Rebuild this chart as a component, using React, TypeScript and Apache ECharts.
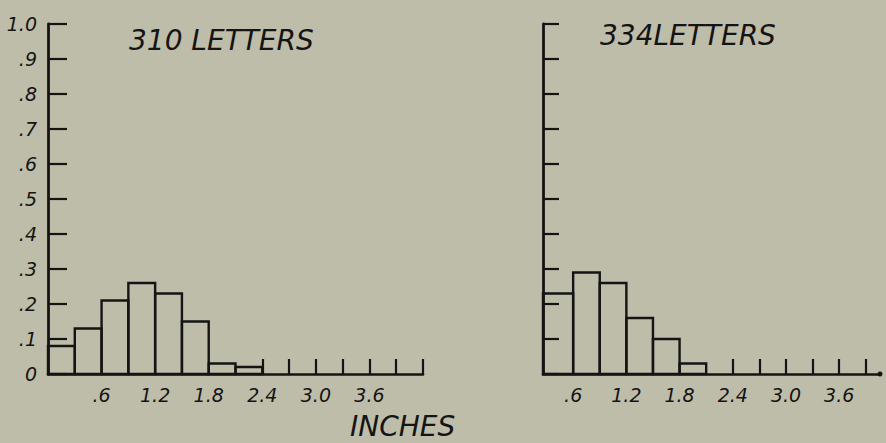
import React, { useEffect, useRef } from "react";
import * as echarts from "echarts";

// Left panel: 310 letters
const leftBinEdges = [0, 0.3, 0.6, 0.9, 1.2, 1.5, 1.8, 2.1, 2.4];
const leftValues = [0.08, 0.13, 0.21, 0.26, 0.23, 0.15, 0.03, 0.02];
// Right panel: 334 letters
const rightBinEdges = [0.26, 0.6, 0.9, 1.2, 1.5, 1.8, 2.1];
const rightValues = [0.23, 0.29, 0.26, 0.16, 0.1, 0.03];

const leftXTicks = [2.4, 2.7, 3.0, 3.3, 3.6, 3.9, 4.2];
const rightXTicks = [2.4, 2.7, 3.0, 3.3, 3.6, 3.9];
const xLabelValues = [0.6, 1.2, 1.8, 2.4, 3.0, 3.6];
const yTickValues = [0, 0.1, 0.2, 0.3, 0.4, 0.5, 0.6, 0.7, 0.8, 0.9, 1.0];

const leftTitle = "310 LETTERS";
const rightTitle = "334LETTERS";
const xName = "INCHES";

const INK = "#141414";
const BG = "#bebdaa";
const FONT = "DejaVu Sans";

const fmtX = (v: number) => {
  const r = Math.round(v * 10) / 10;
  return r < 1 ? "." + Math.round(r * 10) : r.toFixed(1);
};
const fmtY = (v: number) => {
  const r = Math.round(v * 10);
  if (r === 0) return "0";
  if (r === 10) return "1.0";
  return "." + r;
};

function binData(edges: number[], values: number[]) {
  return values.map((v, i) => [edges[i], edges[i + 1], v]);
}

const renderBar = (params: any, api: any) => {
  const x0 = api.value(0);
  const x1 = api.value(1);
  const h = api.value(2);
  const p0 = api.coord([x0, 0]);
  const p1 = api.coord([x1, h]);
  return {
    type: "rect",
    shape: { x: p0[0], y: p1[1], width: p1[0] - p0[0], height: p0[1] - p1[1] },
    style: { fill: "none", stroke: INK, lineWidth: 2.4 },
  };
};

export default function App() {
  const ref = useRef<HTMLDivElement>(null);
  useEffect(() => {
    if (!ref.current) return;
    const chart = echarts.init(ref.current, undefined, { renderer: "svg" });
    const labelStyle = {
      color: INK,
      fontFamily: FONT,
      fontStyle: "italic" as const,
      fontSize: 19,
    };
    const titleStyle = (size: number) => ({
      color: INK,
      fontFamily: FONT,
      fontStyle: "italic" as const,
      fontWeight: "normal" as const,
      fontSize: size,
    });
    const xAxisCommon = (ticks: number[], withDot: boolean) => ({
      type: "value" as const,
      axisLine: {
        show: true,
        lineStyle: { color: INK, width: 2.6 },
        symbol: withDot ? ["none", "circle"] : ["none", "none"],
        symbolSize: [5, 5],
      },
      axisTick: {
        show: true,
        inside: true,
        length: 15,
        lineStyle: { color: INK, width: 2.2 },
        customValues: ticks,
      },
      axisLabel: {
        ...labelStyle,
        margin: 11,
        customValues: xLabelValues,
        formatter: fmtX,
      },
      splitLine: { show: false },
    });
    const yAxisCommon = (showLabels: boolean, len: number) => ({
      type: "value" as const,
      min: 0,
      max: 1,
      axisLine: { show: true, lineStyle: { color: INK, width: 2.8 } },
      axisTick: {
        show: true,
        inside: true,
        length: len,
        lineStyle: { color: INK, width: 2.2 },
        customValues: yTickValues,
      },
      axisLabel: {
        show: showLabels,
        ...labelStyle,
        fontSize: 19,
        margin: 11,
        customValues: yTickValues,
        formatter: fmtY,
      },
      splitLine: { show: false },
    });
    chart.setOption({
      animation: false,
      backgroundColor: BG,
      title: [
        { text: leftTitle, left: 124, top: 21, textStyle: titleStyle(28) },
        { text: rightTitle, left: 595, top: 16, textStyle: titleStyle(28) },
        { text: xName, left: 345, top: 407, textStyle: titleStyle(28) },
      ],
      grid: [
        { left: 48, top: 24, width: 375, height: 350 },
        { left: 543, top: 24, width: 337, height: 350 },
      ],
      xAxis: [
        { gridIndex: 0, min: 0, max: 4.2, ...xAxisCommon(leftXTicks, false) },
        { gridIndex: 1, min: 0.26, max: 4.06, ...xAxisCommon(rightXTicks, true) },
      ],
      yAxis: [
        { gridIndex: 0, ...yAxisCommon(true, 19) },
        { gridIndex: 1, ...yAxisCommon(false, 16) },
      ],
      series: [
        {
          type: "custom",
          xAxisIndex: 0,
          yAxisIndex: 0,
          renderItem: renderBar,
          data: binData(leftBinEdges, leftValues),
          encode: { x: [0, 1], y: 2 },
        },
        {
          type: "custom",
          xAxisIndex: 1,
          yAxisIndex: 1,
          renderItem: renderBar,
          data: binData(rightBinEdges, rightValues),
          encode: { x: [0, 1], y: 2 },
        },
      ],
    });
    return () => chart.dispose();
  }, []);
  return (
    <div
      ref={ref}
      style={{ position: "absolute", left: 0, top: 0, width: 886, height: 443 }}
    />
  );
}
